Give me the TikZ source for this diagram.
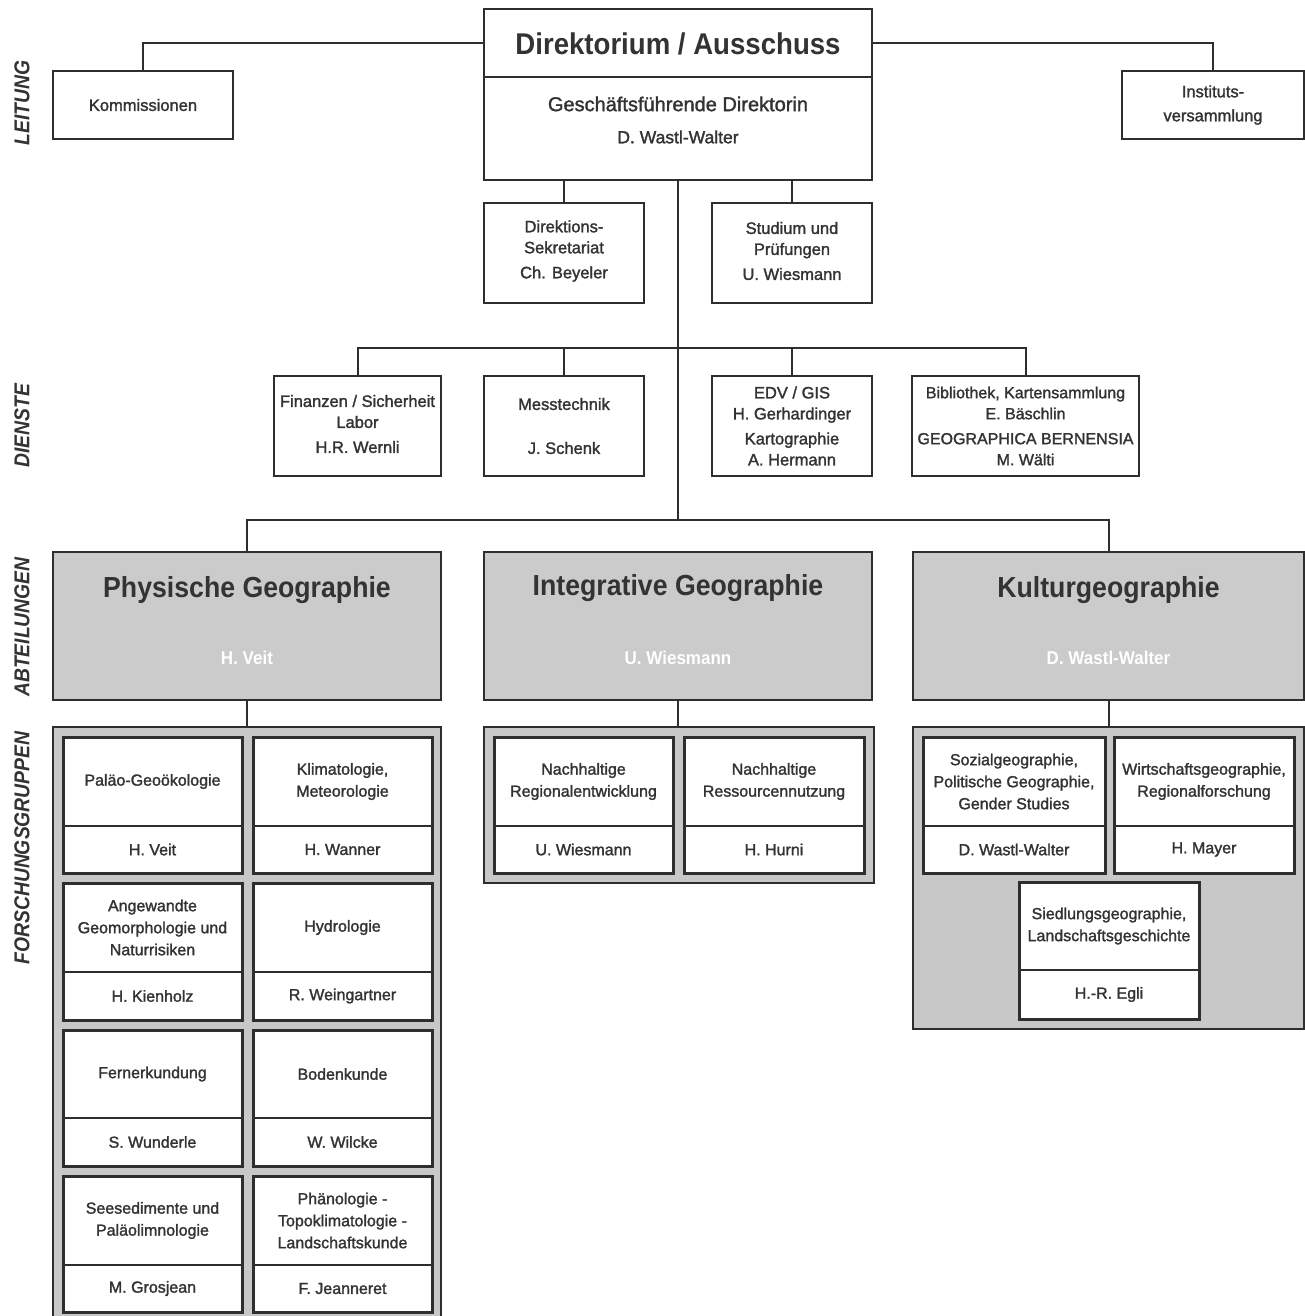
\documentclass[tikz,border=0pt]{standalone}
\usepackage{fontspec}
\setmainfont{Liberation Sans}[FakeBold=1.6]
\newfontfamily\sidefont{Liberation Sans}[FakeStretch=0.9]
\newfontfamily\titlefont{Liberation Sans}[FakeStretch=0.92]
\newcommand\fs[2]{\fontsize{#1}{#2}\selectfont}
\definecolor{lc}{HTML}{2E2E2E}
\definecolor{tc}{HTML}{333333}
\definecolor{gfill}{HTML}{C8C8C8}
\definecolor{afill}{HTML}{CBCBCB}
\tikzset{
  ln/.style={draw=lc, line width=2pt},
  bx/.style={draw=lc, line width=2pt, fill=white, inner sep=0pt},
  abox/.style={draw=lc, line width=2pt, fill=afill, inner sep=0pt},
  frame/.style={draw=lc, line width=2pt, fill=gfill, inner sep=0pt},
  rgb/.style={draw=lc, line width=3pt, fill=white, inner sep=0pt},
  txt/.style={align=center, inner sep=0pt, text=tc, font=\fs{16.5}{21}},
  rgtxt/.style={align=center, inner sep=0pt, text=tc, font=\fs{16}{22}},
  side/.style={rotate=90, inner sep=0pt, text=tc, font=\sidefont\bfseries\itshape\fs{21.5}{24}},
  ttl/.style={align=center, inner sep=0pt, text=tc, font=\titlefont\bfseries\fs{29}{32}},
}
\newcommand{\rsgroup}[8]{%
  \node[rgb, minimum width={#3-#2}, minimum height={#6-#4}] (#1) at ({(#2+#3)/2},{(#4+#6)/2}) {};
  \draw[lc, line width=2pt] (#1.west |- 0,#5) -- (#1.east |- 0,#5);
  \node[rgtxt] (#1t) at ({(#2+#3)/2},{(#4+#5)/2}) {#7};
  \node[rgtxt] (#1p) at ({(#2+#3)/2},{(#5+#6)/2}) {#8};
}
\begin{document}
\begin{tikzpicture}[x=1pt,y=-1pt]
\useasboundingbox[fill=white] (0,0) rectangle (1305,1316);

% side labels
\node[side] (lLeit) at (22,103) {LEITUNG};
\node[side] (lDien) at (22,426) {DIENSTE};
\node[side] (lAbt) at (22,627) {ABTEILUNGEN};
\node[side] (lFor) at (22,848) {FORSCHUNGSGRUPPEN};

% ===== LEITUNG =====
\node[bx, minimum width=388, minimum height=171] (dir) at (678,94.5) {};
\draw[ln] (dir.west |- 0,77) -- (dir.east |- 0,77);
\node[ttl, font=\titlefont\bfseries\fs{30}{34}] (dirT) at (678,44) {Direktorium / Ausschuss};
\node[txt, font=\fs{20}{24}] (dirG) at (678,104) {Geschäftsführende Direktorin};
\node[txt, font=\fs{17.5}{21}] (dirN) at (678,137) {D. Wastl-Walter};

\node[bx, minimum width=180, minimum height=68] (komm) at (143,105) {};
\node[txt] (kommT) at (komm.center) {Kommissionen};
\node[bx, minimum width=182, minimum height=68] (inst) at (1213,105) {};
\node[txt, font=\fs{16.5}{24}] (instT) at (inst.center) {Instituts-\\versammlung};

\coordinate (dirL) at (dir.west |- 0,43);
\coordinate (dirR) at (dir.east |- 0,43);
\draw[ln] (komm.north) |- (dirL);
\draw[ln] (inst.north) |- (dirR);

% ===== Sekretariat / Studium =====
\node[bx, minimum width=160, minimum height=100] (sek) at (564,253) {};
\node[txt] (sekT) at (564,251) {Direktions-\\Sekretariat\\[4pt]Ch. Beyeler};
\node[bx, minimum width=160, minimum height=100] (stu) at (792,253) {};
\node[txt] (stuT) at (792,251) {Studium und\\Prüfungen\\[4pt]U. Wiesmann};
\coordinate (dirS) at (564,180);
\coordinate (dirP) at (792,180);
\coordinate (dirB) at (678,180);
\draw[ln] (dirS) -- (sek.north);
\draw[ln] (dirP) -- (stu.north);

% trunk
\coordinate (trunkA) at (678,520);
\draw[ln] (dirB) -- (trunkA);

% ===== DIENSTE =====
\node[bx, minimum width=167, minimum height=100] (fin) at (357.5,426) {};
\node[txt] (finT) at (357.5,424) {Finanzen / Sicherheit\\Labor\\[4pt]H.R. Wernli};
\node[bx, minimum width=160, minimum height=100] (mes) at (564,426) {};
\node[txt] (mesT) at (564,426) {Messtechnik\\[23pt]J. Schenk};
\node[bx, minimum width=160, minimum height=100] (edv) at (792,426) {};
\node[txt] (edvT) at (792,426) {EDV / GIS\\H. Gerhardinger\\[4pt]Kartographie\\A. Hermann};
\node[bx, minimum width=227, minimum height=100] (bib) at (1025.5,426) {};
\node[txt, font=\fs{16}{21}] (bibT) at (1025.5,426) {Bibliothek, Kartensammlung\\E. Bäschlin\\[4pt]GEOGRAPHICA BERNENSIA\\M. Wälti};
\coordinate (dR) at (bib.north |- 0,348);
\draw[ln] (fin.north) |- (dR) -- (bib.north);
\draw[ln] (mes.north) -- (mes.north |- 0,348);
\draw[ln] (edv.north) -- (edv.north |- 0,348);

% ===== ABTEILUNGEN =====
\node[abox, minimum width=388, minimum height=148] (phy) at (247,626) {};
\node[ttl] (phyT) at (247,590) {Physische Geographie};
\node[ttl, font=\titlefont\bfseries\fs{18.5}{22}, text=white] (phyN) at (247,658) {H. Veit};
\node[abox, minimum width=388, minimum height=148] (int) at (678,626) {};
\node[ttl] (intT) at (678,588) {Integrative Geographie};
\node[ttl, font=\titlefont\bfseries\fs{18.5}{22}, text=white] (intN) at (678,658) {U. Wiesmann};
\node[abox, minimum width=391, minimum height=148] (kul) at (1108.5,626) {};
\node[ttl] (kulT) at (1108.5,590) {Kulturgeographie};
\node[ttl, font=\titlefont\bfseries\fs{18.5}{22}, text=white] (kulN) at (1108.5,658) {D. Wastl-Walter};
\draw[ln] (phy.north) |- (kul.north |- 0,520) -- (kul.north);

% ===== FORSCHUNGSGRUPPEN frames =====
\node[frame, minimum width=388, minimum height=595] (fphy) at (247,1024.5) {};
\node[frame, minimum width=390, minimum height=156] (fint) at (679,805) {};
\node[frame, minimum width=391, minimum height=302] (fkul) at (1108.5,878) {};
\draw[ln] (phy.south) -- (phy.south |- fphy.north);
\draw[ln] (int.south) -- (int.south |- fint.north);
\draw[ln] (kul.south) -- (kul.south |- fkul.north);

% Physische groups
\rsgroup{p1}{63}{242}{737}{826}{873}{Paläo-Geoökologie}{H. Veit}
\rsgroup{p2}{253}{432}{737}{826}{873}{Klimatologie,\\Meteorologie}{H. Wanner}
\rsgroup{p3}{63}{242}{883}{972}{1020}{Angewandte\\Geomorphologie und\\Naturrisiken}{H. Kienholz}
\rsgroup{p4}{253}{432}{883}{972}{1020}{Hydrologie}{R. Weingartner}
\rsgroup{p5}{63}{242}{1030}{1118}{1166}{Fernerkundung}{S. Wunderle}
\rsgroup{p6}{253}{432}{1030}{1118}{1166}{Bodenkunde}{W. Wilcke}
\rsgroup{p7}{63}{242}{1176}{1265}{1312}{Seesedimente und\\Paläolimnologie}{M. Grosjean}
\rsgroup{p8}{253}{432}{1176}{1265}{1312}{Phänologie -\\Topoklimatologie -\\Landschaftskunde}{F. Jeanneret}

% Integrative groups
\rsgroup{i1}{494}{673}{737}{826}{873}{Nachhaltige\\Regionalentwicklung}{U. Wiesmann}
\rsgroup{i2}{684}{864}{737}{826}{873}{Nachhaltige\\Ressourcennutzung}{H. Hurni}

% Kultur groups
\rsgroup{k1}{923}{1105}{737}{826}{873}{Sozialgeographie,\\Politische Geographie,\\Gender Studies}{D. Wastl-Walter}
\rsgroup{k2}{1114}{1294}{737}{826}{873}{Wirtschaftsgeographie,\\Regionalforschung}{H. Mayer}
\rsgroup{k3}{1019}{1199}{882}{970}{1019}{Siedlungsgeographie,\\Landschaftsgeschichte}{H.-R. Egli}
\end{tikzpicture}
\end{document}
